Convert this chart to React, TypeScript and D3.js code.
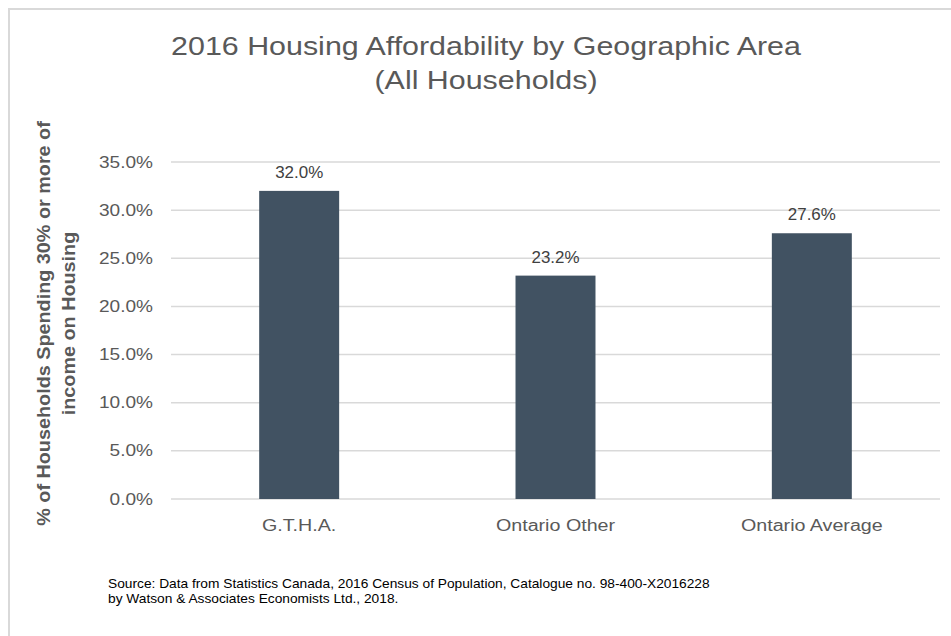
import React from "react";
import * as d3 from "d3";

const W = 951;
const H = 636;
const margin = { top: 162, right: 11, bottom: 137, left: 171 };

const categories = ["G.T.H.A.", "Ontario Other", "Ontario Average"];
const shares = [32.0, 23.2, 27.6];
const yTicks = [0, 5, 10, 15, 20, 25, 30, 35];

const titleLines = ["2016 Housing Affordability by Geographic Area", "(All Households)"];
const yTitleLines = ["% of Households Spending 30% or more of", "income on Housing"];
const sourceLines = [
  "Source:  Data from Statistics Canada, 2016 Census of Population, Catalogue no. 98-400-X2016228",
  "by Watson & Associates Economists Ltd., 2018.",
];

const font = "Arial, 'Liberation Sans', sans-serif";

// text stretched horizontally, like the wide rendering in the original
const Wide = ({ x, y, sx, anchor = "start", size, fill, weight = "normal", children }: any) => (
  <g transform={`translate(${x},${y}) scale(${sx},1)`}>
    <text textAnchor={anchor} fontFamily={font} fontSize={size} fontWeight={weight} fill={fill}>
      {children}
    </text>
  </g>
);

const App = () => {
  const innerW = W - margin.left - margin.right;
  const innerH = H - margin.top - margin.bottom;

  const x = d3.scaleBand().domain(categories).range([0, innerW]).paddingInner(0.688).paddingOuter(0.344);
  const y = d3.scaleLinear().domain([0, 35]).range([innerH, 0]);
  const fmt = (v: number) => d3.format(".1f")(v) + "%";

  return (
    <svg width={W} height={H} style={{ position: "absolute", left: 0, top: 0, background: "#fff" }}>
      <rect x={9} y={9} width={W + 10} height={H + 10} fill="#fff" stroke="#d9d9d9" strokeWidth={2} />

      {titleLines.map((t, i) => (
        <Wide key={t} x={486} y={55 + i * 34} sx={1.17} anchor="middle" size={26} fill="#595959">
          {t}
        </Wide>
      ))}

      <g transform={`translate(${margin.left},${margin.top})`}>
        {yTicks.map((t) => (
          <g key={t}>
            <line x1={0} x2={innerW} y1={y(t)} y2={y(t)} stroke="#d9d9d9" strokeWidth={1.5} />
            <Wide x={-18} y={y(t) + 5.6} sx={1.19} anchor="end" size={16} fill="#595959">
              {fmt(t)}
            </Wide>
          </g>
        ))}

        {categories.map((c, i) => (
          <g key={c}>
            <rect x={x(c)} y={y(shares[i])} width={x.bandwidth()} height={innerH - y(shares[i])} fill="#415262" />
            <Wide x={(x(c) || 0) + x.bandwidth() / 2} y={y(shares[i]) - 13} sx={1.06} anchor="middle" size={16} fill="#404040">
              {fmt(shares[i])}
            </Wide>
            <Wide x={(x(c) || 0) + x.bandwidth() / 2} y={innerH + 32} sx={1.23} anchor="middle" size={16} fill="#595959">
              {c}
            </Wide>
          </g>
        ))}
      </g>

      <g transform={`translate(0,${margin.top + innerH / 2 - 7}) rotate(-90)`}>
        {yTitleLines.map((t, i) => (
          <Wide key={t} x={0} y={50 + i * 25} sx={1.1} anchor="middle" size={18} weight="bold" fill="#595959">
            {t}
          </Wide>
        ))}
      </g>

      {sourceLines.map((t, i) => (
        <Wide key={t} x={108} y={588 + i * 15} sx={1.1} size={12.5} fill="#000">
          {t}
        </Wide>
      ))}
    </svg>
  );
};

export default App;
